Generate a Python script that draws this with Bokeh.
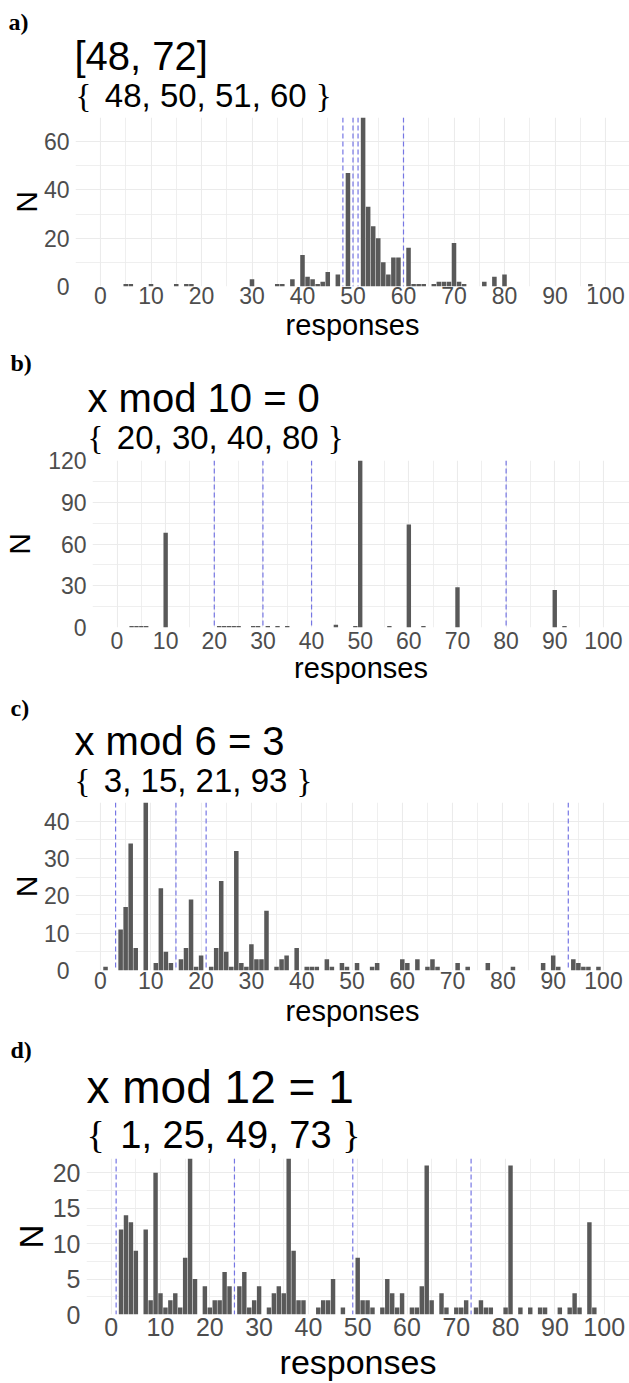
from bokeh.plotting import figure
from bokeh.models import Range1d, FixedTicker, Span
from bokeh.layouts import column
from bokeh.embed import file_html
from bokeh.resources import INLINE
from bokeh.core.properties import value

# ---------------- data ----------------
a_x = [5, 6, 10, 15, 17, 18, 30, 35, 36, 38, 40, 41, 42, 43, 44, 45, 47, 49, 52, 53, 54, 55,
       56, 57, 58, 59, 61, 62, 63, 64, 66, 67, 68, 69, 70, 71, 72, 76, 78, 80, 97]
a_n = [1, 1, 1, 1, 1, 1, 3, 1, 1, 3, 13, 4, 3, 1, 2, 6, 5, 47, 70, 33, 25, 20,
       10, 5, 12, 12, 16, 1, 1, 1, 1, 2, 2, 2, 18, 2, 1, 2, 4, 5, 1]
a_marks = [48, 50, 51, 60]
a_title = "[48, 72]"
a_subtitle = "{  48, 50, 51, 60 }"
a_yticks = [0, 20, 40, 60]
a_yminor = [10, 30, 50, 70]

b_x = [3, 4, 5, 6, 10, 21, 22, 23, 24, 25, 28, 29, 31, 33, 35, 45, 49, 50, 56, 60, 63, 70, 90, 92]
b_n = [1, 1, 1, 1, 68, 1, 1, 1, 1, 1, 1, 1, 1, 1, 1, 2, 1, 120, 1, 74, 1, 29, 27, 1]
b_marks = [20, 30, 40, 80]
b_title = "x mod 10 = 0"
b_subtitle = "{  20, 30, 40, 80 }"
b_yticks = [0, 30, 60, 90, 120]
b_yminor = [15, 45, 75, 105]

c_x = [1, 4, 5, 6, 7, 9, 11, 12, 13, 14, 16, 17, 18, 19, 20, 22, 23, 24, 25, 26, 27, 28, 29,
       30, 31, 32, 33, 35, 36, 37, 39, 41, 42, 43, 45, 46, 48, 49, 51, 54, 55, 60, 61, 63,
       65, 66, 67, 71, 73, 77, 82, 88, 90, 91, 94, 95, 96, 97, 99]
c_n = [1, 11, 17, 34, 6, 45, 2, 22, 5, 2, 3, 6, 19, 1, 4, 1, 6, 24, 5, 1, 32, 2, 1,
       7, 3, 3, 16, 1, 3, 4, 6, 1, 1, 1, 3, 1, 2, 1, 2, 1, 2, 3, 2, 3,
       1, 3, 1, 2, 1, 2, 1, 2, 4, 1, 3, 2, 1, 1, 1]
c_marks = [3, 15, 21, 93]
c_title = "x mod 6 = 3"
c_subtitle = "{  3, 15, 21, 93 }"
c_yticks = [0, 10, 20, 30, 40]
c_yminor = [5, 15, 25, 35, 45]

d_x = [2, 3, 4, 5, 7, 8, 9, 10, 11, 12, 13, 14, 15, 16, 17, 19, 20, 21, 22, 23, 24, 26, 27,
       28, 29, 30, 32, 33, 34, 35, 36, 37, 38, 39, 42, 43, 44, 45, 47, 50, 51, 52, 53, 55,
       56, 57, 58, 59, 61, 62, 63, 64, 65, 67, 68, 70, 71, 72, 74, 75, 76, 77, 80, 81, 83,
       85, 87, 88, 91, 93, 94, 95, 97, 98]
d_n = [12, 14, 13, 9, 12, 2, 20, 3, 1, 2, 3, 1, 8, 22, 5, 4, 1, 2, 2, 6, 4, 4, 6,
       1, 2, 4, 1, 3, 4, 3, 22, 9, 2, 2, 1, 2, 2, 5, 1, 8, 2, 2, 1, 1,
       5, 3, 1, 3, 1, 1, 4, 21, 2, 3, 1, 1, 1, 2, 1, 2, 1, 1, 1, 21, 1,
       1, 1, 1, 1, 1, 3, 1, 13, 1]
d_marks = [1, 25, 49, 73]
d_title = "x mod 12 = 1"
d_subtitle = "{  1, 25, 49, 73 }"
d_yticks = [0, 5, 10, 15, 20]
d_yminor = [2.5, 7.5, 12.5, 17.5]

x_ticks = list(range(0, 101, 10))
x_minor = list(range(5, 100, 10))

# ---------------- style ----------------
BAR = "#595959"
GRID = "#EBEBEB"
DASH = "#7676E4"
TICK = "#4D4D4D"
SANS = "Liberation Sans"
SERIF = "Liberation Serif"
W = 629
MID = 0.36  # text centre sits this many font-sizes above the baseline
# advance widths (em) of Liberation Sans characters used in the subtitles
SANS_W = {**{ch: 0.556 for ch in "0123456789"}, ",": 0.278, " ": 0.278, "{": 0.334, "}": 0.334}

# page-pixel layout of each panel (header strip + plot); overlap = plot drawn over header bottom
GEOM = {
    "a": dict(head_top=0, head_h=115, overlap=0, fig_h=228, left=75, top=117, fh=169, x0=100.0, ppu=5.05,
              ymax=70, tick_fs=23, lab_fs=29, n_fs=30, xl_so=0, xa_so=2, ya_so=-2,
              letter=(8, 30), title=(74, 70), sub=(75, 107), t_fs=40, s_fs=33, letter_fs=24),
    "b": dict(head_top=343, head_h=115, overlap=13, fig_h=245, left=88, top=460, fh=167, x0=112.7, ppu=4.9,
              ymax=120, tick_fs=23, lab_fs=29, n_fs=30, xl_so=4, xa_so=0, ya_so=9,
              letter=(10, 371), title=(87, 412), sub=(87, 449), t_fs=40, s_fs=33, letter_fs=24),
    "c": dict(head_top=690, head_h=110, overlap=0, fig_h=230, left=75, top=802, fh=168, x0=100.0, ppu=5.03,
              ymax=45, tick_fs=23, lab_fs=29, n_fs=30, xl_so=1, xa_so=3, ya_so=-2,
              letter=(10, 716), title=(74, 755), sub=(74, 792), t_fs=40, s_fs=33, letter_fs=24),
    "d": dict(head_top=1030, head_h=126, overlap=0, fig_h=227, left=86, top=1158, fh=159, x0=110.7, ppu=4.93,
              ymax=22, tick_fs=25, lab_fs=34, n_fs=33, xl_so=3, xa_so=4, ya_so=0,
              letter=(10, 1058), title=(86, 1103), sub=(86, 1148), t_fs=46, s_fs=38, letter_fs=24),
}


def sans_width(s, fs):
    return sum(SANS_W.get(ch, 0.556) for ch in s) * fs


def make_header(key, title, subtitle):
    g = GEOM[key]
    h = g["head_h"]
    t0 = g["head_top"]
    p = figure(width=W, height=h, x_range=Range1d(0, W), y_range=Range1d(h, 0),
               output_backend="svg", toolbar_location=None,
               x_axis_type=None, y_axis_type=None, frame_align=False,
               min_border_left=0, min_border_right=0, min_border_top=0, min_border_bottom=0)
    p.grid.visible = False
    p.outline_line_color = None
    p.background_fill_color = "white"
    p.border_fill_color = "white"

    # subtitle: serif braces around sans numbers (spaces become offsets, SVG trims them)
    sx, sbase = g["sub"]
    sfs = g["s_fs"]
    inner = subtitle[1:-1]
    core = inner.strip()
    lead = inner[:len(inner) - len(inner.lstrip())]
    trail = inner[len(inner.rstrip()):]
    inner_x = sx + sans_width(subtitle[0] + lead, sfs)
    close_x = inner_x + sans_width(core + trail, sfs)
    items = [
        (g["letter"], f"{key})", SERIF, "bold", g["letter_fs"]),
        (g["title"], title, SANS, "normal", g["t_fs"]),
        ((sx, sbase), subtitle[0], SERIF, "normal", sfs),
        ((inner_x, sbase), core, SANS, "normal", sfs),
        ((close_x, sbase), subtitle[-1], SERIF, "normal", sfs),
    ]
    for (tx, base), txt, font, style, fs in items:
        p.text(x=[tx], y=[base - t0 - MID * fs], text=[txt], text_font=value(font),
               text_font_style=style, text_font_size=f"{fs}px",
               text_baseline="middle", text_align="left", text_color="black")
    return p


def make_panel(key, xv, nv, marks, yticks, yminor):
    g = GEOM[key]
    left, top, fh = g["left"], g["top"], g["fh"]
    fig_top = g["head_top"] + g["head_h"] - g["overlap"]
    xs = (left - g["x0"]) / g["ppu"]
    xe = (W - g["x0"]) / g["ppu"]
    top_b = top - fig_top
    bot_b = g["fig_h"] - top_b - fh
    extra = {}
    if g["overlap"]:
        extra["margin"] = (-g["overlap"], 0, 0, 0)
    p = figure(width=W, height=g["fig_h"], x_range=Range1d(xs, xe), y_range=Range1d(0, g["ymax"]),
               output_backend="svg", toolbar_location=None, frame_align=False,
               min_border_left=left, min_border_right=0,
               min_border_top=top_b, min_border_bottom=bot_b, **extra)
    p.outline_line_color = None
    p.background_fill_color = "white"
    p.border_fill_color = None if g["overlap"] else "white"

    xt = FixedTicker(ticks=x_ticks, minor_ticks=x_minor)
    yt = FixedTicker(ticks=yticks, minor_ticks=yminor)
    p.xaxis.ticker = xt
    p.yaxis.ticker = yt
    p.xgrid.ticker = xt
    p.ygrid.ticker = yt
    for gr in (p.xgrid[0], p.ygrid[0]):
        gr.grid_line_color = GRID
        gr.grid_line_width = 1.1
        gr.minor_grid_line_color = GRID
        gr.minor_grid_line_width = 0.8

    for ax in (p.xaxis[0], p.yaxis[0]):
        ax.axis_line_color = None
        ax.major_tick_line_color = None
        ax.minor_tick_line_color = None
        ax.major_tick_out = 0
        ax.major_tick_in = 0
        ax.minor_tick_out = 0
        ax.minor_tick_in = 0
        ax.major_label_text_font = SANS
        ax.major_label_text_font_size = f"{g['tick_fs']}px"
        ax.major_label_text_color = TICK
        ax.axis_label_text_font = SANS
        ax.axis_label_text_font_style = "normal"
        ax.axis_label_text_color = "black"
    p.xaxis.axis_label = "responses"
    p.xaxis.axis_label_text_font_size = f"{g['lab_fs']}px"
    p.xaxis.major_label_standoff = g["xl_so"]
    p.xaxis.axis_label_standoff = g["xa_so"]
    p.yaxis.axis_label = "N"
    p.yaxis.axis_label_text_font_size = f"{g['n_fs']}px"
    p.yaxis.major_label_standoff = 6
    p.yaxis.axis_label_standoff = g["ya_so"]

    p.vbar(x=xv, top=nv, width=0.9, fill_color=BAR, line_color=None)
    for m in marks:
        p.add_layout(Span(location=m, dimension="height", line_color=DASH,
                          line_width=1.2, line_dash="5 3"))
    return p


ha = make_header("a", a_title, a_subtitle)
pa = make_panel("a", a_x, a_n, a_marks, a_yticks, a_yminor)
hb = make_header("b", b_title, b_subtitle)
pb = make_panel("b", b_x, b_n, b_marks, b_yticks, b_yminor)
hc = make_header("c", c_title, c_subtitle)
pc = make_panel("c", c_x, c_n, c_marks, c_yticks, c_yminor)
hd = make_header("d", d_title, d_subtitle)
pd = make_panel("d", d_x, d_n, d_marks, d_yticks, d_yminor)

layout = column(ha, pa, hb, pb, hc, pc, hd, pd, spacing=0)
open("out.html", "w").write(file_html(layout, INLINE))
